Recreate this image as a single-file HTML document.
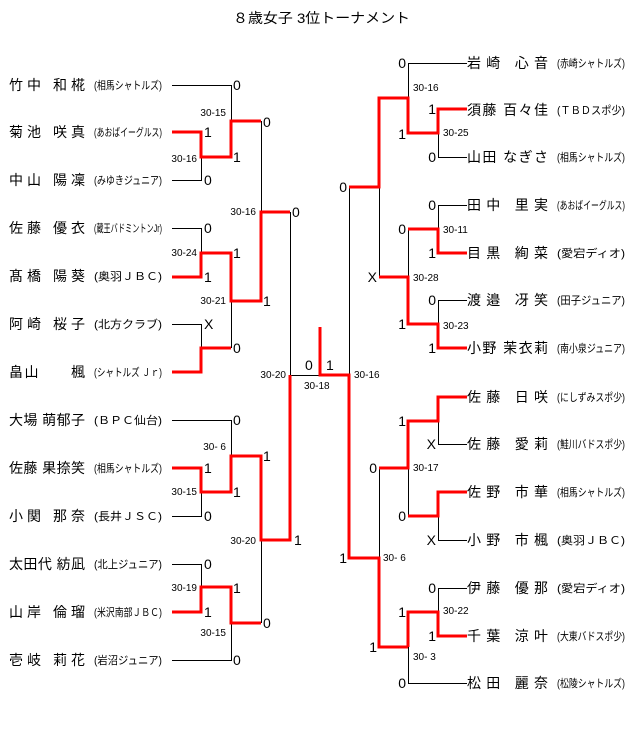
<!DOCTYPE html>
<html><head><meta charset="utf-8"><style>
html,body{margin:0;padding:0;background:#fff;}
svg{display:block;}
text{font-family:"Liberation Sans","Noto Sans CJK JP",sans-serif;fill:#000;}
.n{font-size:14px;}
.c{font-size:11px;fill:#222;}
.s{font-size:14px;}
.l{font-size:10px;}
.k{stroke:#000;stroke-width:1;fill:none;}
.r{stroke:#f00;stroke-width:3;fill:none;stroke-linejoin:miter;stroke-linecap:butt;}
</style></head><body>
<svg width="640" height="741" viewBox="0 0 640 741" xmlns="http://www.w3.org/2000/svg">
<text x="233" y="23" font-size="14" textLength="177" lengthAdjust="spacingAndGlyphs">８歳女子 3位トーナメント</text>

<g class="n">
<text x="9" y="90" textLength="76" lengthAdjust="spacing">竹中 和椛</text>
<text x="9" y="137" textLength="76" lengthAdjust="spacing">菊池 咲真</text>
<text x="9" y="185" textLength="76" lengthAdjust="spacing">中山 陽凜</text>
<text x="9" y="233" textLength="76" lengthAdjust="spacing">佐藤 優衣</text>
<text x="9" y="281" textLength="76" lengthAdjust="spacing">髙橋 陽葵</text>
<text x="9" y="329" textLength="76" lengthAdjust="spacing">阿崎 桜子</text>
<text x="9" y="377" textLength="76" lengthAdjust="spacing">畠山　　楓</text>
<text x="9" y="425" textLength="76" lengthAdjust="spacing">大場 萌郁子</text>
<text x="9" y="473" textLength="76" lengthAdjust="spacing">佐藤 果捺笑</text>
<text x="9" y="521" textLength="76" lengthAdjust="spacing">小関 那奈</text>
<text x="9" y="569" textLength="76" lengthAdjust="spacing">太田代 紡凪</text>
<text x="9" y="617" textLength="76" lengthAdjust="spacing">山岸 倫瑠</text>
<text x="9" y="665" textLength="76" lengthAdjust="spacing">壱岐 莉花</text>
</g>
<g class="c">
<text x="94" y="89" textLength="68" lengthAdjust="spacingAndGlyphs">(相馬シャトルズ)</text>
<text x="94" y="136" textLength="68" lengthAdjust="spacingAndGlyphs">(あおばイーグルス)</text>
<text x="94" y="184" textLength="68" lengthAdjust="spacingAndGlyphs">(みゆきジュニア)</text>
<text x="94" y="232" textLength="68" lengthAdjust="spacingAndGlyphs">(蔵王バドミントンJr)</text>
<text x="94" y="280" textLength="68" lengthAdjust="spacingAndGlyphs">(奥羽ＪＢＣ)</text>
<text x="94" y="328" textLength="68" lengthAdjust="spacingAndGlyphs">(北方クラブ)</text>
<text x="94" y="376" textLength="68" lengthAdjust="spacingAndGlyphs">(シャトルズ Ｊｒ)</text>
<text x="94" y="424" textLength="68" lengthAdjust="spacingAndGlyphs">(ＢＰＣ仙台)</text>
<text x="94" y="472" textLength="68" lengthAdjust="spacingAndGlyphs">(相馬シャトルズ)</text>
<text x="94" y="520" textLength="68" lengthAdjust="spacingAndGlyphs">(長井ＪＳＣ)</text>
<text x="94" y="568" textLength="68" lengthAdjust="spacingAndGlyphs">(北上ジュニア)</text>
<text x="94" y="616" textLength="68" lengthAdjust="spacingAndGlyphs">(米沢南部ＪＢＣ)</text>
<text x="94" y="664" textLength="68" lengthAdjust="spacingAndGlyphs">(岩沼ジュニア)</text>
</g>

<g class="n">
<text x="467" y="68" textLength="81" lengthAdjust="spacing">岩崎 心音</text>
<text x="467" y="115" textLength="81" lengthAdjust="spacing">須藤 百々佳</text>
<text x="467" y="162" textLength="81" lengthAdjust="spacing">山田 なぎさ</text>
<text x="467" y="210" textLength="81" lengthAdjust="spacing">田中 里実</text>
<text x="467" y="258" textLength="81" lengthAdjust="spacing">目黒 絢菜</text>
<text x="467" y="305" textLength="81" lengthAdjust="spacing">渡邉 冴笑</text>
<text x="467" y="353" textLength="81" lengthAdjust="spacing">小野 茉衣莉</text>
<text x="467" y="402" textLength="81" lengthAdjust="spacing">佐藤 日咲</text>
<text x="467" y="449" textLength="81" lengthAdjust="spacing">佐藤 愛莉</text>
<text x="467" y="497" textLength="81" lengthAdjust="spacing">佐野 市華</text>
<text x="467" y="545" textLength="81" lengthAdjust="spacing">小野 市楓</text>
<text x="467" y="593" textLength="81" lengthAdjust="spacing">伊藤 優那</text>
<text x="467" y="641" textLength="81" lengthAdjust="spacing">千葉 涼叶</text>
<text x="467" y="688" textLength="81" lengthAdjust="spacing">松田 麗奈</text>
</g>
<g class="c">
<text x="557" y="67" textLength="68" lengthAdjust="spacingAndGlyphs">(赤崎シャトルズ)</text>
<text x="557" y="114" textLength="68" lengthAdjust="spacingAndGlyphs">(ＴＢＤスポ少)</text>
<text x="557" y="161" textLength="68" lengthAdjust="spacingAndGlyphs">(相馬シャトルズ)</text>
<text x="557" y="209" textLength="68" lengthAdjust="spacingAndGlyphs">(あおばイーグルス)</text>
<text x="557" y="257" textLength="68" lengthAdjust="spacingAndGlyphs">(愛宕ディオ)</text>
<text x="557" y="304" textLength="68" lengthAdjust="spacingAndGlyphs">(田子ジュニア)</text>
<text x="557" y="352" textLength="68" lengthAdjust="spacingAndGlyphs">(南小泉ジュニア)</text>
<text x="557" y="401" textLength="68" lengthAdjust="spacingAndGlyphs">(にしずみスポ少)</text>
<text x="557" y="448" textLength="68" lengthAdjust="spacingAndGlyphs">(鮭川バドスポ少)</text>
<text x="557" y="496" textLength="68" lengthAdjust="spacingAndGlyphs">(相馬シャトルズ)</text>
<text x="557" y="544" textLength="68" lengthAdjust="spacingAndGlyphs">(奥羽ＪＢＣ)</text>
<text x="557" y="592" textLength="68" lengthAdjust="spacingAndGlyphs">(愛宕ディオ)</text>
<text x="557" y="640" textLength="68" lengthAdjust="spacingAndGlyphs">(大東バドスポ少)</text>
<text x="557" y="687" textLength="68" lengthAdjust="spacingAndGlyphs">(松陵シャトルズ)</text>
</g>

<g class="k">
<path d="M172 85.5H231.5V121"/>
<path d="M172 180.5H201.5V157"/>
<path d="M172 228.5H201.5V253"/>
<path d="M172 324.5H201.5V348"/>
<path d="M231.5 301V348"/>
<path d="M261.5 121V212"/>
<path d="M290.5 212V375.5H320"/>
<path d="M172 420.5H231.5V456"/>
<path d="M172 516.5H201.5V492"/>
<path d="M172 564.5H201.5V588"/>
<path d="M172 660.5H231.5V623"/>
<path d="M261.5 540V623"/>
<path d="M467 63.5H408.5V98"/>
<path d="M467 157.5H438.5V133"/>
<path d="M467 205.5H438.5V229"/>
<path d="M408.5 229V277"/>
<path d="M467 300.5H438.5V324"/>
<path d="M379.5 187V277"/>
<path d="M349.5 187V375"/>
<path d="M467 444.5H438.5V421"/>
<path d="M467 540.5H438.5V516"/>
<path d="M408.5 468V516"/>
<path d="M467 588.5H438.5V612"/>
<path d="M467 683.5H408.5V647"/>
<path d="M379.5 468V558"/>
</g>

<g class="r">
<path d="M172 132H201V157H231V121H261"/>
<path d="M172 277H201V253H231V301H261V212H290"/>
<path d="M172 372H201V348H231"/>
<path d="M172 468H201V492H231V456H261V540H290V375"/>
<path d="M172 612H201V587H231V623H261"/>
<path d="M320 327V375H349V558H379V647H408"/>
<path d="M467 109H438V133H408V98H379V187H349"/>
<path d="M467 253H438V229H408"/>
<path d="M467 348H438V324H408V277H379"/>
<path d="M467 397H438V421H408V468H379"/>
<path d="M467 492H438V516H408"/>
<path d="M467 636H438V612H408V647"/>
</g>

<g class="s">
<text x="233" y="90">0</text>
<text x="204" y="137">1</text>
<text x="204" y="185">0</text>
<text x="263" y="127">0</text>
<text x="233" y="162">1</text>
<text x="204" y="233">0</text>
<text x="204" y="282">1</text>
<text x="233" y="258">1</text>
<text x="204" y="329">X</text>
<text x="233" y="353">0</text>
<text x="263" y="306">1</text>
<text x="292" y="217">0</text>
<text x="233" y="425">0</text>
<text x="204" y="473">1</text>
<text x="204" y="521">0</text>
<text x="233" y="497">1</text>
<text x="263" y="461">1</text>
<text x="204" y="569">0</text>
<text x="204" y="617">1</text>
<text x="233" y="593">1</text>
<text x="263" y="628">0</text>
<text x="233" y="665">0</text>
<text x="294" y="545">1</text>
<text x="305" y="370">0</text>
<text x="326" y="370">1</text>
</g>
<g class="s" text-anchor="end">
<text x="406" y="68">0</text>
<text x="436" y="114">1</text>
<text x="436" y="162">0</text>
<text x="406" y="139">1</text>
<text x="347" y="192">0</text>
<text x="436" y="210">0</text>
<text x="436" y="258">1</text>
<text x="406" y="234">0</text>
<text x="377" y="282">X</text>
<text x="436" y="305">0</text>
<text x="436" y="353">1</text>
<text x="406" y="329">1</text>
<text x="406" y="426">1</text>
<text x="436" y="449">X</text>
<text x="406" y="521">0</text>
<text x="436" y="545">X</text>
<text x="377" y="473">0</text>
<text x="436" y="593">0</text>
<text x="436" y="641">1</text>
<text x="406" y="617">1</text>
<text x="377" y="652">1</text>
<text x="406" y="688">0</text>
<text x="347" y="563">1</text>
</g>

<g class="l" text-anchor="end">
<text x="226" y="116">30-15</text>
<text x="197" y="162">30-16</text>
<text x="256" y="215">30-16</text>
<text x="197" y="256">30-24</text>
<text x="226" y="304">30-21</text>
<text x="286" y="378">30-20</text>
<text x="226" y="450">30- 6</text>
<text x="197" y="495">30-15</text>
<text x="256" y="544">30-20</text>
<text x="197" y="591">30-19</text>
<text x="226" y="636">30-15</text>
</g>
<g class="l">
<text x="304" y="389">30-18</text>
<text x="413" y="91">30-16</text>
<text x="443" y="136">30-25</text>
<text x="443" y="233">30-11</text>
<text x="413" y="281">30-28</text>
<text x="443" y="329">30-23</text>
<text x="354" y="378">30-16</text>
<text x="413" y="471">30-17</text>
<text x="383" y="561">30- 6</text>
<text x="443" y="614">30-22</text>
<text x="413" y="660">30- 3</text>
</g>
</svg>
</body></html>
